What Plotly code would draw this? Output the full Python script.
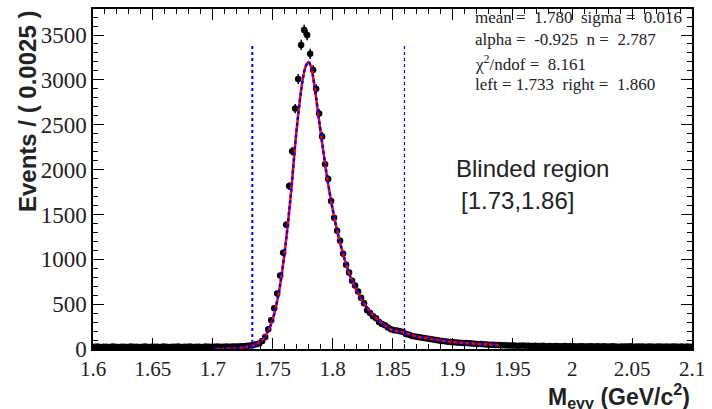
import numpy as np
import plotly.graph_objects as go

# ---- data ----
x_start = 1.6
bin_width = 0.0025
counts = [
    24, 27, 22, 26, 25, 21, 28, 24, 23, 26,
    25, 22, 27, 24, 26, 23, 25, 28, 22, 24,
    26, 25, 23, 27, 24, 22, 26, 25, 28, 23,
    25, 24, 27, 22, 26, 25, 23, 28, 24, 26,
    25, 27, 24, 26, 28, 25, 27, 29, 28, 30,
    32, 35,
    40, 45, 52, 62, 90, 133, 220, 321, 454, 620,
    820, 1074, 1384, 1816, 2204, 2680, 3010, 3390, 3555, 3500,
    3290, 3110, 2900, 2625, 2370, 2060, 1894, 1650, 1462, 1318,
    1207, 1063, 940, 853, 760, 709, 642, 570, 509, 432,
    400, 365, 343, 300, 280, 266, 240, 221, 210, 205,
    199, 190, 166, 158, 144, 140, 133, 128, 122, 118,
    111, 106, 100, 95, 89, 86, 82, 78, 76, 73,
    70, 68, 66, 63, 60, 58, 57, 55, 52, 50,
    48, 47, 45, 44, 42,
    41, 40, 38, 39, 37, 36, 38, 35, 36, 34,
    35, 33, 34, 36, 32, 33, 31, 34, 32, 30,
    33, 31, 30, 32, 29, 31, 30, 28, 32, 30,
    29, 31, 28, 30, 27, 29, 30, 28, 26, 29,
    28, 27, 30, 26, 28, 29, 27, 25, 28, 27,
    26, 28, 27, 25, 29, 26, 27, 28, 25, 27,
    26, 28, 25,
]

fit_x = [1.700, 1.710, 1.720, 1.725, 1.730, 1.735, 1.740, 1.745, 1.750, 1.755,
         1.760, 1.765, 1.770, 1.775, 1.7775, 1.780, 1.7825, 1.785, 1.790, 1.795,
         1.800, 1.805, 1.810, 1.815, 1.820, 1.825, 1.830, 1.835, 1.840, 1.845,
         1.850, 1.855, 1.860, 1.865, 1.870, 1.875, 1.880, 1.885, 1.890, 1.900,
         1.910, 1.920, 1.930, 1.940]
fit_y = [0, 2, 8, 15, 25, 45, 85, 170, 330, 620,
         1080, 1700, 2450, 3000, 3150, 3200, 3120, 2920, 2420, 1950,
         1560, 1250, 1000, 800, 650, 530, 440, 360, 300, 250,
         212, 195, 180, 160, 140, 128, 117, 107, 95, 80,
         68, 58, 50, 43]

blind_left = 1.733
blind_right = 1.860
blind_line_top = 3400

x_tickvals = [1.6, 1.65, 1.7, 1.75, 1.8, 1.85, 1.9, 1.95, 2.0, 2.05, 2.1]
x_ticktext = ["1.6", "1.65", "1.7", "1.75", "1.8", "1.85", "1.9", "1.95", "2", "2.05", "2.1"]
y_tickvals = [0, 500, 1000, 1500, 2000, 2500, 3000, 3500]
y_ticktext = ["0", "500", "1000", "1500", "2000", "2500", "3000", "3500"]

NB = "\u00a0"
stats_lines = [
    f"mean ={NB}{NB}1.780{NB}{NB}sigma ={NB}{NB}0.016",
    f"alpha ={NB}{NB}-0.925{NB}{NB}n ={NB}{NB}2.787",
    f"χ<sup>2</sup>/ndof ={NB}{NB}8.161",
    f"left = 1.733{NB}{NB}right ={NB}{NB}1.860",
]

# ---- figure ----
counts_arr = np.array(counts, dtype=float)
x_centers = x_start + bin_width * (np.arange(len(counts)) + 0.5)
errs = np.sqrt(counts_arr)

fig = go.Figure()

fig.add_trace(go.Scatter(
    x=x_centers, y=counts_arr, mode="markers",
    marker=dict(color="black", size=6.5),
    error_y=dict(type="data", array=errs, color="black", thickness=1.5, width=0),
    showlegend=False, hoverinfo="skip"))

fig.add_trace(go.Scatter(
    x=fit_x, y=fit_y, mode="lines",
    line=dict(color="red", width=2.5, shape="spline", smoothing=0.8),
    showlegend=False, hoverinfo="skip"))
fig.add_trace(go.Scatter(
    x=fit_x, y=fit_y, mode="lines",
    line=dict(color="blue", width=2.5, dash="dot", shape="spline", smoothing=0.8),
    showlegend=False, hoverinfo="skip"))

fig.add_shape(type="line", x0=blind_left, x1=blind_left, y0=0, y1=blind_line_top,
              xref="x", yref="y", line=dict(color="blue", width=2, dash="dot"))
fig.add_shape(type="line", x0=blind_right, x1=blind_right, y0=0, y1=blind_line_top,
              xref="x", yref="y", line=dict(color="blue", width=1.2, dash="dot"))

serif = "Liberation Serif"
sans = "Liberation Sans"

fig.update_layout(
    width=712, height=409,
    margin=dict(l=93, r=15, t=7, b=60),
    paper_bgcolor="white", plot_bgcolor="white",
    font=dict(family=serif, color="#222"),
    xaxis=dict(
        range=[1.6, 2.1], showline=True, linecolor="black", linewidth=1.5,
        mirror="allticks", ticks="inside", ticklen=11, tickwidth=1.2, tickcolor="black",
        tickvals=x_tickvals, ticktext=x_ticktext,
        tickfont=dict(family=serif, size=21, color="#222"),
        minor=dict(ticks="inside", ticklen=5, dtick=0.01, tickcolor="black", tickwidth=1),
        showgrid=False, zeroline=False,
    ),
    yaxis=dict(
        range=[0, 3790], showline=True, linecolor="black", linewidth=1.5,
        mirror="allticks", ticks="inside", ticklen=11, tickwidth=1.2, tickcolor="black",
        tickvals=y_tickvals, ticktext=y_ticktext,
        tickfont=dict(family=serif, size=23, color="#222"),
        minor=dict(ticks="inside", ticklen=5, dtick=100, tickcolor="black", tickwidth=1),
        showgrid=False, zeroline=False,
    ),
)

# axis titles
fig.add_annotation(
    text="<b>Events / ( 0.0025 )</b>", textangle=-90,
    xref="paper", yref="paper", x=-93/604 + 27/604, y=1.0,
    xanchor="center", yanchor="top", showarrow=False,
    font=dict(family=sans, size=24, color="#222"))
fig.add_annotation(
    text="<b>M<sub>eγγ</sub> (GeV/c<sup>2</sup>)</b>",
    xref="paper", yref="paper", x=1.0, y=-0.085,
    xanchor="right", yanchor="top", showarrow=False,
    font=dict(family=sans, size=23, color="#222"))

# stats box text
stat_y_px = [16, 38, 61, 83]
for line, ypx in zip(stats_lines, stat_y_px):
    fig.add_annotation(
        text=line, xref="paper", yref="paper",
        x=(476 - 93) / 604, y=1 - (ypx - 7) / 342,
        xanchor="left", yanchor="middle", showarrow=False,
        font=dict(family=serif, size=17, color="#222"))

# blinded region text
fig.add_annotation(
    text="Blinded region", xref="paper", yref="paper",
    x=(457 - 93) / 604, y=1 - (167 - 7) / 342,
    xanchor="left", yanchor="middle", showarrow=False,
    font=dict(family=sans, size=24, color="#222"))
fig.add_annotation(
    text="[1.73,1.86]", xref="paper", yref="paper",
    x=(462 - 93) / 604, y=1 - (200 - 7) / 342,
    xanchor="left", yanchor="middle", showarrow=False,
    font=dict(family=sans, size=24, color="#222"))

fig.write_html("out.html")
